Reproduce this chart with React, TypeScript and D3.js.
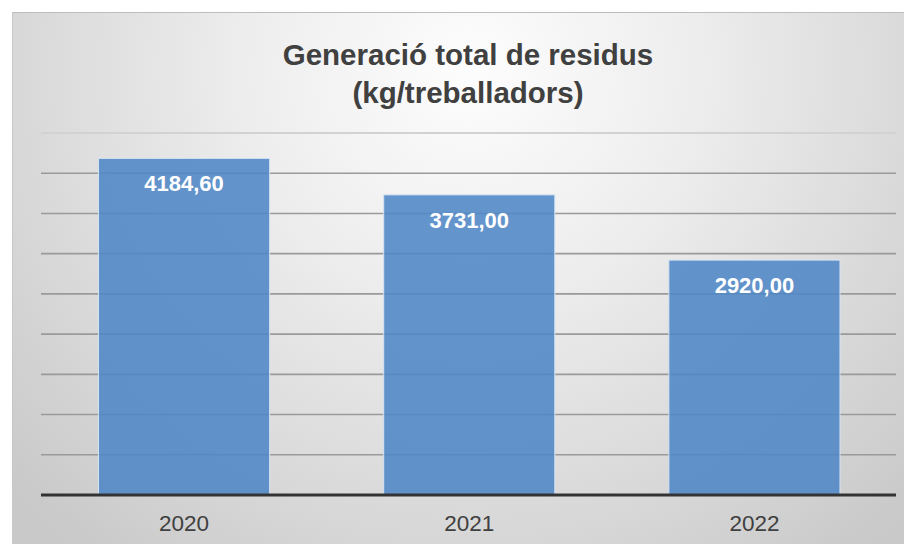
import React from "react";
import * as d3 from "d3";

const categories = ["2020", "2021", "2022"];
const values = [4184.6, 3731.0, 2920.0];
const valueLabels = ["4184,60", "3731,00", "2920,00"];
const gridTicks = [500, 1000, 1500, 2000, 2500, 3000, 3500, 4000, 4500];
const titleLines = ["Generació total de residus", "(kg/treballadors)"];

export default function App() {
  const W = 904;
  const H = 544;
  const x = d3.scaleBand<string>().domain(categories).range([41.5, 897]).paddingInner(0.4).paddingOuter(0.2);
  const y = d3.scaleLinear().domain([0, 4500]).range([495, 133]);
  const font = "'Liberation Sans', Arial, sans-serif";
  return (
    <svg width={W} height={H} style={{ position: "absolute", left: 0, top: 0 }} fontFamily={font}>
      <defs>
        <radialGradient id="bg" gradientUnits="userSpaceOnUse" cx={470} cy={70} r={620} fx={470} fy={70}>
          <stop offset="0" stopColor="#fdfdfd" />
          <stop offset="0.35" stopColor="#eeeeee" />
          <stop offset="1" stopColor="#c9c9c9" />
        </radialGradient>
      </defs>
      <rect x={0} y={0} width={W} height={H} fill="#ffffff" />
      <rect x={12} y={12} width={W - 12} height={H - 12} fill="url(#bg)" />
      <line x1={12} x2={W} y1={12.5} y2={12.5} stroke="#bdbdbd" strokeWidth={1} />
      <line x1={12.5} x2={12.5} y1={12} y2={H} stroke="#c8c8c8" strokeWidth={1} />
      {titleLines.map((t, i) => (
        <text key={t} x={468} y={65 + i * 38} textAnchor="middle" fontSize={29.5} fontWeight="bold" fill="#404040">
          {t}
        </text>
      ))}
      {gridTicks.map((v) => (
        <line key={v} x1={41} x2={896} y1={y(v)} y2={y(v)} stroke={v === 4500 ? "#d2d2d2" : "#9a9a9a"} strokeWidth={v === 4500 ? 2 : 1.6} />
      ))}
      {categories.map((c, i) => (
        <g key={c}>
          <rect
            x={x(c)!}
            y={y(values[i])}
            width={x.bandwidth()}
            height={y(0) - y(values[i])}
            fill="#4f86c6"
            fillOpacity={0.88}
            stroke="#d6e3f3"
            strokeWidth={1}
          />
          <text x={x(c)! + x.bandwidth() / 2} y={y(values[i]) + 33} textAnchor="middle" fontSize={22} fontWeight="bold" fill="#ffffff">
            {valueLabels[i]}
          </text>
          <text x={x(c)! + x.bandwidth() / 2} y={531} textAnchor="middle" fontSize={22.5} fill="#404040">
            {c}
          </text>
        </g>
      ))}
      <line x1={41} x2={896} y1={y(0)} y2={y(0)} stroke="#333333" strokeWidth={3} />
    </svg>
  );
}
